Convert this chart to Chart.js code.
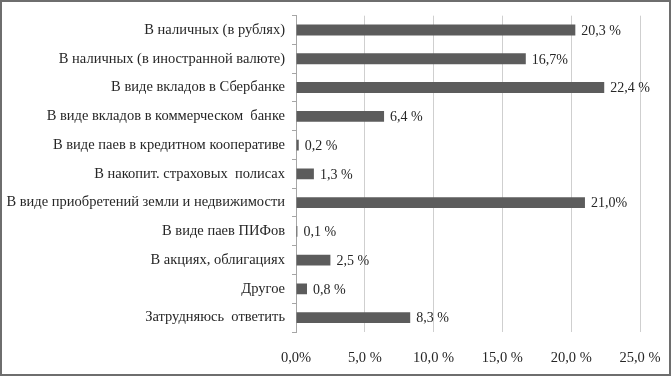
<!DOCTYPE html>
<html>
<head>
<meta charset="utf-8">
<script src="https://cdn.jsdelivr.net/npm/chart.js@4"></script>
<style>
html,body{margin:0;padding:0;background:#fff;}
canvas{display:block;}
</style>
</head>
<body>
<canvas id="c" width="671" height="376"></canvas>
<script>
const categories = [
  "В наличных (в рублях)",
  "В наличных (в иностранной валюте)",
  "В виде вкладов в Сбербанке",
  "В виде вкладов в коммерческом  банке",
  "В виде паев в кредитном кооперативе",
  "В накопит. страховых  полисах",
  "В виде приобретений земли и недвижимости",
  "В виде паев ПИФов",
  "В акциях, облигациях",
  "Другое",
  "Затрудняюсь  ответить"
];
const values = [20.3, 16.7, 22.4, 6.4, 0.2, 1.3, 21.0, 0.1, 2.5, 0.8, 8.3];
const valueLabels = ["20,3 %", "16,7%", "22,4 %", "6,4 %", "0,2 %", "1,3 %", "21,0%", "0,1 %", "2,5 %", "0,8 %", "8,3 %"];
const tickValues = [0, 5, 10, 15, 20, 25];
const tickLabels = ["0,0%", "5,0 %", "10,0 %", "15,0 %", "20,0 %", "25,0 %"];

const FONT = "'Liberation Serif', 'Times New Roman', serif";

const frame = {
  id: 'frame',
  afterDraw(chart) {
    const ctx = chart.ctx;
    ctx.save();
    ctx.strokeStyle = '#6e6e6e';
    ctx.lineWidth = 2;
    ctx.strokeRect(1, 1, chart.width - 2, chart.height - 2);
    ctx.restore();
  }
};

const barLabels = {
  id: 'barLabels',
  afterDatasetsDraw(chart) {
    const ctx = chart.ctx;
    const meta = chart.getDatasetMeta(0);
    ctx.save();
    ctx.font = "14px " + FONT;
    ctx.fillStyle = '#262626';
    ctx.textAlign = 'left';
    ctx.textBaseline = 'middle';
    meta.data.forEach((bar, i) => {
      ctx.fillText(valueLabels[i], bar.x + 6, bar.y + 1);
    });
    ctx.restore();
  }
};

new Chart(document.getElementById('c'), {
  type: 'bar',
  data: {
    labels: categories,
    datasets: [{
      data: values,
      backgroundColor: '#5c5c5c',
      borderWidth: 0,
      barPercentage: 0.38,
      categoryPercentage: 1.0
    }]
  },
  options: {
    indexAxis: 'y',
    responsive: false,
    animation: false,
    devicePixelRatio: 1,
    layout: { padding: { left: 0, right: 31, top: 15, bottom: 0 } },
    plugins: { legend: { display: false }, tooltip: { enabled: false } },
    scales: {
      x: {
        min: 0, max: 25,
        afterBuildTicks(scale) { scale.ticks = tickValues.map(v => ({ value: v })); },
        afterFit(scale) { scale.height = 44; scale.paddingRight = 0; scale.paddingLeft = 0; },
        ticks: {
          callback: (v, i) => tickLabels[i],
          font: { family: FONT, size: 14.5 },
          color: '#262626',
          padding: 17,
          maxRotation: 0
        },
        grid: { color: '#cfcfcf', drawTicks: false, lineWidth: 1 },
        border: { display: false }
      },
      y: {
        afterFit(scale) { scale.width = 296; },
        ticks: {
          font: { family: FONT, size: 14.5 },
          color: '#262626',
          padding: 7
        },
        grid: { offset: true, drawOnChartArea: false, tickLength: 4, color: '#a6a6a6' },
        border: { display: true, color: '#a6a6a6' }
      }
    }
  },
  plugins: [barLabels, frame]
});
</script>
</body>
</html>
